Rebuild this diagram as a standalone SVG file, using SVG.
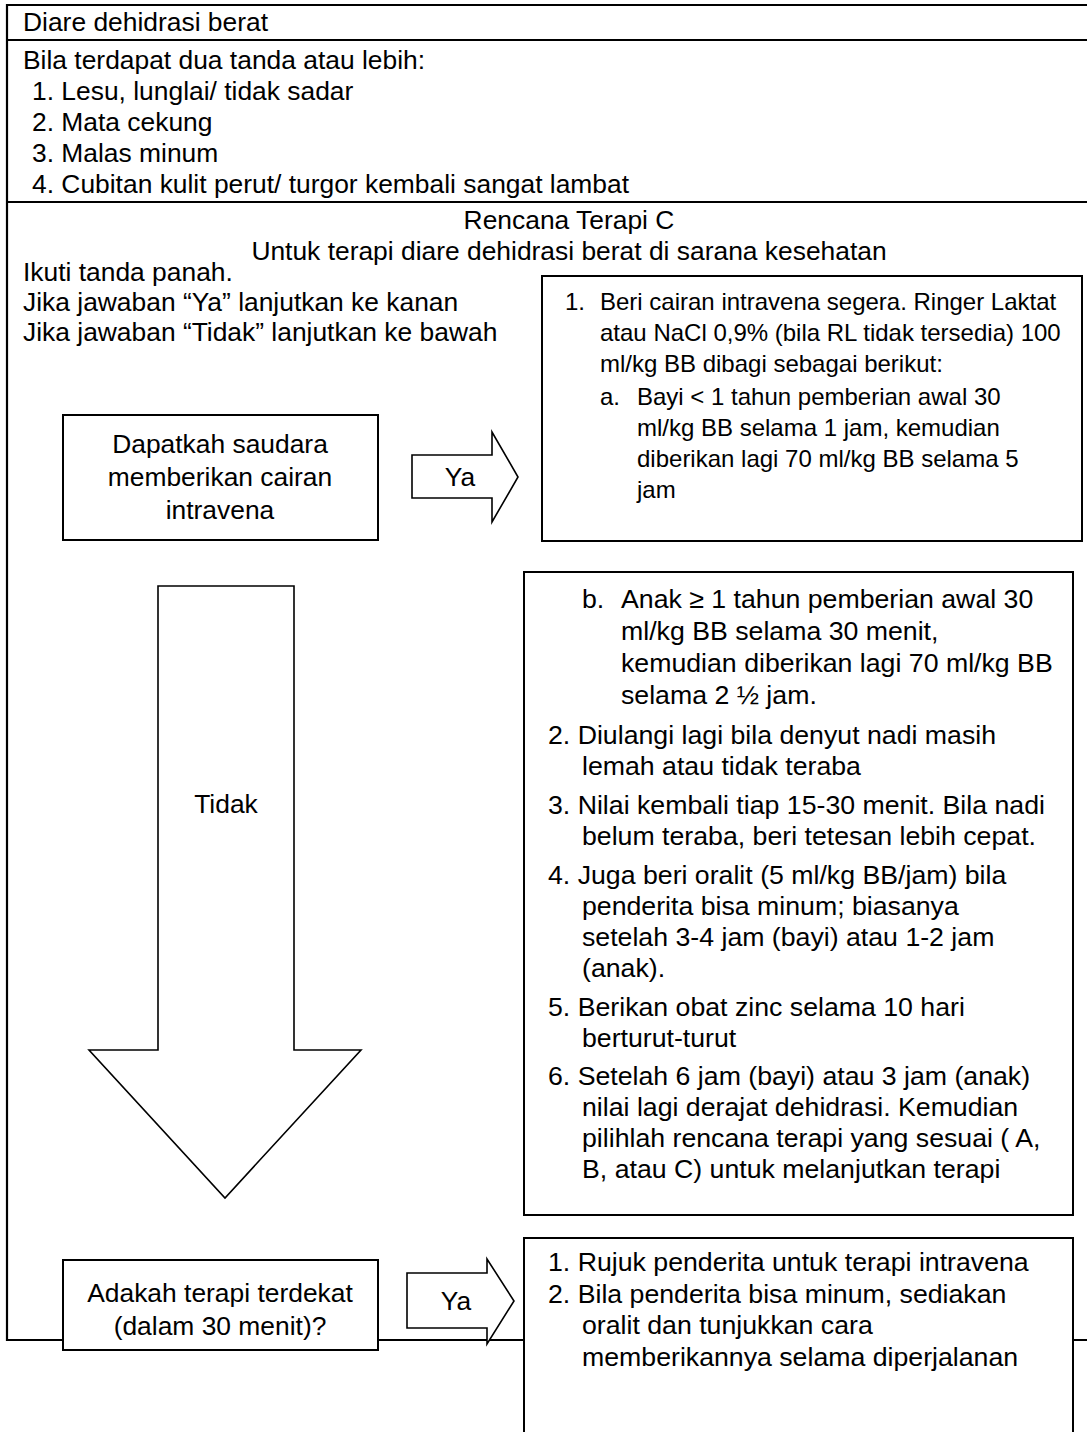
<svg xmlns="http://www.w3.org/2000/svg" width="1087" height="1432" viewBox="0 0 1087 1432">
<style>
text{font-family:"Liberation Sans",Arial,sans-serif;fill:#000}
.t{font-size:26.4px}
.b{font-size:26.7px}
.s{font-size:24px}
.c{text-anchor:middle}
.frame{fill:none;stroke:#000;stroke-width:2.2}
.box{fill:#fff;stroke:#000;stroke-width:2}
.arr{fill:#fff;stroke:#000;stroke-width:1.6;stroke-linejoin:miter}
</style>
<rect width="1087" height="1432" fill="#fff"/>
<g id="table">
<path class="frame" d="M1087 5H7V1340H63 M7 40H1087 M7 202H1087 M378 1340H524 M1073 1340H1087"/>
<text class="t" x="23" y="31">Diare dehidrasi berat</text>
<text class="t" x="23" y="69">Bila terdapat dua tanda atau lebih:</text>
<text class="t" x="32" y="100">1. Lesu, lunglai/ tidak sadar</text>
<text class="t" x="32" y="131">2. Mata cekung</text>
<text class="t" x="32" y="162">3. Malas minum</text>
<text class="t" x="32" y="193">4. Cubitan kulit perut/ turgor kembali sangat lambat</text>
<text class="t c" x="569" y="229">Rencana Terapi C</text>
<text class="t c" x="569" y="260">Untuk terapi diare dehidrasi berat di sarana kesehatan</text>
<text class="t" x="23" y="281">Ikuti tanda panah.</text>
<text class="t" x="23" y="311">Jika jawaban “Ya” lanjutkan ke kanan</text>
<text class="t" x="23" y="341">Jika jawaban “Tidak” lanjutkan ke bawah</text>
</g>
<g id="connectors">
<g id="ya1">
<polygon class="arr" points="412,455 492,455 492,432 518,477 492,522 492,498 412,498"/>
<text class="t c" x="460" y="486">Ya</text>
</g>
<g id="tidak">
<polygon class="arr" points="158,586 294,586 294,1050 361,1050 225,1198 89,1050 158,1050"/>
<text class="t c" x="226" y="813">Tidak</text>
</g>
<g id="ya2">
<polygon class="arr" points="407,1273 487,1273 487,1259 514,1301 487,1344 487,1328 407,1328"/>
<text class="t c" x="456" y="1310">Ya</text>
</g>
</g>
<g id="q1">
<rect class="box" x="63" y="415" width="315" height="125"/>
<text class="t c" x="220" y="453">Dapatkah saudara</text>
<text class="t c" x="220" y="486">memberikan cairan</text>
<text class="t c" x="220" y="519">intravena</text>
</g>
<g id="a1">
<rect class="box" x="542" y="276" width="540" height="265"/>
<text class="s" x="565" y="310">1.</text>
<text class="s" x="600" y="310">Beri cairan intravena segera. Ringer Laktat</text>
<text class="s" x="600" y="341">atau NaCl 0,9% (bila RL tidak tersedia) 100</text>
<text class="s" x="600" y="372">ml/kg BB dibagi sebagai berikut:</text>
<text class="s" x="600" y="405">a.</text>
<text class="s" x="637" y="405">Bayi &lt; 1 tahun pemberian awal 30</text>
<text class="s" x="637" y="436">ml/kg BB selama 1 jam, kemudian</text>
<text class="s" x="637" y="467">diberikan lagi 70 ml/kg BB selama 5</text>
<text class="s" x="637" y="498">jam</text>
</g>
<g id="a2">
<rect class="box" x="524" y="572" width="549" height="643"/>
<text class="b" x="582" y="608">b.</text>
<text class="b" x="621" y="608">Anak ≥ 1 tahun pemberian awal 30</text>
<text class="b" x="621" y="640">ml/kg BB selama 30 menit,</text>
<text class="b" x="621" y="672">kemudian diberikan lagi 70 ml/kg BB</text>
<text class="b" x="621" y="704">selama 2 ½ jam.</text>
<text class="b" x="548" y="744">2. Diulangi lagi bila denyut nadi masih</text>
<text class="b" x="582" y="775">lemah atau tidak teraba</text>
<text class="b" x="548" y="814">3. Nilai kembali tiap 15-30 menit. Bila nadi</text>
<text class="b" x="582" y="845">belum teraba, beri tetesan lebih cepat.</text>
<text class="b" x="548" y="884">4. Juga beri oralit (5 ml/kg BB/jam) bila</text>
<text class="b" x="582" y="915">penderita bisa minum; biasanya</text>
<text class="b" x="582" y="946">setelah 3-4 jam (bayi) atau 1-2 jam</text>
<text class="b" x="582" y="977">(anak).</text>
<text class="b" x="548" y="1016">5. Berikan obat zinc selama 10 hari</text>
<text class="b" x="582" y="1047">berturut-turut</text>
<text class="b" x="548" y="1085">6. Setelah 6 jam (bayi) atau 3 jam (anak)</text>
<text class="b" x="582" y="1116">nilai lagi derajat dehidrasi. Kemudian</text>
<text class="b" x="582" y="1147">pilihlah rencana terapi yang sesuai ( A,</text>
<text class="b" x="582" y="1178">B, atau C) untuk melanjutkan terapi</text>
</g>
<g id="q2">
<rect class="box" x="63" y="1260" width="315" height="90"/>
<text class="t c" x="220" y="1302">Adakah terapi terdekat</text>
<text class="t c" x="220" y="1335">(dalam 30 menit)?</text>
</g>
<g id="a3">
<rect class="box" x="524" y="1238" width="549" height="210"/>
<text class="b" x="548" y="1271">1. Rujuk penderita untuk terapi intravena</text>
<text class="b" x="548" y="1303">2. Bila penderita bisa minum, sediakan</text>
<text class="b" x="582" y="1334">oralit dan tunjukkan cara</text>
<text class="b" x="582" y="1366">memberikannya selama diperjalanan</text>
</g>
</svg>
